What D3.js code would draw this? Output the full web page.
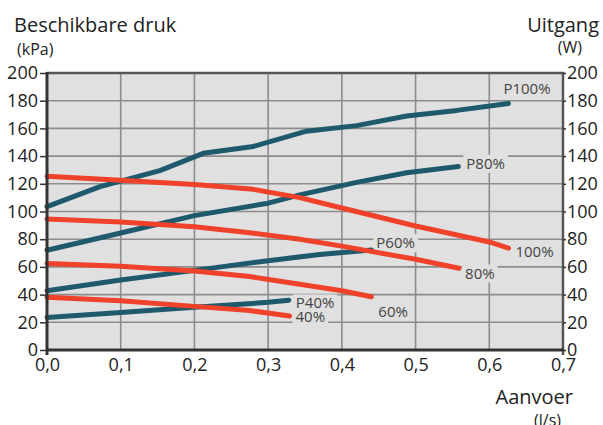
<!DOCTYPE html>
<html>
<head>
<meta charset="utf-8">
<script src="https://cdn.jsdelivr.net/npm/d3@7"></script>
<style>
  html, body { margin: 0; padding: 0; background: #fff; }
  svg { display: block; font-family: "Open Sans", "DejaVu Sans", sans-serif; }
</style>
</head>
<body>
<svg id="chart" width="603" height="425"></svg>
<script>
// ---- data ----
const xTicks = [0, 0.1, 0.2, 0.3, 0.4, 0.5, 0.6, 0.7];
const yTicks = [0, 20, 40, 60, 80, 100, 120, 140, 160, 180, 200];

// pressure curves (kPa), red
const press100 = [[0,125.5],[0.1,122.5],[0.2,119.5],[0.28,116],[0.343,110],[0.4,102.5],[0.5,89.5],[0.6,78],[0.626,73.5]];
const press80  = [[0,94.5],[0.1,92.5],[0.2,89],[0.275,84.7],[0.343,80],[0.4,75],[0.5,65.5],[0.559,59]];
const press60  = [[0,62.5],[0.1,60.5],[0.2,57],[0.275,53],[0.343,47.5],[0.4,42.8],[0.44,38.5]];
const press40  = [[0,38],[0.1,35.5],[0.2,31.5],[0.275,28.5],[0.329,24.5]];

// power curves (W), blue
const power100 = [[0,103.5],[0.072,118],[0.153,129.5],[0.212,142],[0.28,147],[0.352,158],[0.42,162],[0.488,169],[0.556,173],[0.626,178]];
const power80  = [[0,72],[0.1,84.5],[0.2,97],[0.3,106],[0.343,112],[0.42,121],[0.488,128],[0.558,132.5]];
const power60  = [[0,42.8],[0.1,50.5],[0.2,57.5],[0.3,64.5],[0.37,69],[0.44,72.2]];
const power40  = [[0,23.5],[0.1,27],[0.2,30.8],[0.3,34.4],[0.328,36]];

const pressLabels = ["100%", "80%", "60%", "40%"];
const powerLabels = ["P100%", "P80%", "P60%", "P40%"];

// ---- layout / style ----
const RED = "#f0412a", BLUE = "#1e596c";
const svg = d3.select("#chart");
const x = d3.scaleLinear().domain([0, 0.7]).range([47, 563]);
const y = d3.scaleLinear().domain([0, 200]).range([350, 73]);

// plot background
svg.append("rect")
  .attr("x", x(0)).attr("y", y(200))
  .attr("width", x(0.7) - x(0)).attr("height", y(0) - y(200))
  .attr("fill", "#e0e0e0");

// grid
const grid = svg.append("g").attr("stroke", "#8c8c8c").attr("stroke-width", 1.6);
grid.selectAll("line.h").data(yTicks.filter(d => d > 0 && d < 200)).join("line")
  .attr("x1", x(0)).attr("x2", x(0.7)).attr("y1", d => y(d)).attr("y2", d => y(d));
grid.selectAll("line.v").data(xTicks.filter(d => d > 0 && d < 0.7)).join("line")
  .attr("y1", y(0)).attr("y2", y(200)).attr("x1", d => x(d)).attr("x2", d => x(d));

const bgLayer = svg.append("g");
const lineLayer = svg.append("g");
const textLayer = svg.append("g");

// border (top/right)
svg.append("path")
  .attr("d", `M${x(0)},${y(200)}H${x(0.7)}V${y(0) + 5}`)
  .attr("fill", "none").attr("stroke", "#555").attr("stroke-width", 2.5);

// axes
const fmtX = d => d.toFixed(1).replace(".", ",");
const left = svg.append("g").attr("transform", `translate(${x(0)},0)`)
  .call(d3.axisLeft(y).tickValues(yTicks).tickSize(7).tickPadding(2).tickFormat(d => d));
const right = svg.append("g").attr("transform", `translate(${x(0.7)},0)`)
  .call(d3.axisRight(y).tickValues(yTicks).tickSize(3).tickPadding(1).tickFormat(d => d));
const bottom = svg.append("g").attr("transform", `translate(0,${y(0)})`)
  .call(d3.axisBottom(x).tickValues(xTicks).tickSize(0).tickPadding(8).tickFormat(fmtX));

[left, right, bottom].forEach(g => {
  g.selectAll("text").attr("font-size", 18).attr("fill", "#222")
   .attr("font-family", "'Open Sans', sans-serif");
  g.selectAll(".tick line").attr("stroke", "#333").attr("stroke-width", 1.5);
});
left.select(".domain").remove();
right.select(".domain").remove();
bottom.select(".domain").remove();
svg.append("line").attr("x1", x(0)).attr("x2", x(0)).attr("y1", y(200) - 1).attr("y2", y(0) + 5)
  .attr("stroke", "#333").attr("stroke-width", 3);
svg.append("line").attr("x1", x(0) - 1).attr("x2", x(0.7) + 1).attr("y1", y(0)).attr("y2", y(0))
  .attr("stroke", "#333").attr("stroke-width", 3);

// curves
const line = d3.line().x(d => x(d[0])).y(d => y(d[1])).curve(d3.curveLinear);
const series = [
  { data: power100, color: BLUE, label: powerLabels[0], dx: -5, dy: -15 },
  { data: power80,  color: BLUE, label: powerLabels[1], dx: 8,  dy: -3 },
  { data: power60,  color: BLUE, label: powerLabels[2], dx: 5,  dy: -7 },
  { data: power40,  color: BLUE, label: powerLabels[3], dx: 7,  dy: 3 },
  { data: press100, color: RED,  label: pressLabels[0], dx: 7,  dy: 4 },
  { data: press80,  color: RED,  label: pressLabels[1], dx: 6,  dy: 5 },
  { data: press60,  color: RED,  label: pressLabels[2], dx: 7,  dy: 15 },
  { data: press40,  color: RED,  label: pressLabels[3], dx: 6,  dy: 1 }
];

lineLayer.selectAll("path").data(series).join("path")
  .attr("d", d => line(d.data))
  .attr("fill", "none")
  .attr("stroke", d => d.color)
  .attr("stroke-width", 5)
  .attr("stroke-linecap", "round")
  .attr("stroke-linejoin", "round");

// labels with background boxes
series.forEach(s => {
  const last = s.data[s.data.length - 1];
  const t = textLayer.append("text")
    .attr("x", x(last[0]) + s.dx)
    .attr("y", y(last[1]) + s.dy)
    .attr("dy", "0.35em")
    .attr("font-size", 15)
    .attr("fill", "#444")
    .text(s.label);
  const b = t.node().getBBox();
  bgLayer.append("rect")
    .attr("x", b.x - 3).attr("y", b.y + 2)
    .attr("width", b.width + 6).attr("height", b.height - 2)
    .attr("fill", "#e0e0e0");
});

// titles
svg.append("text").attr("x", 14).attr("y", 32).attr("font-size", 20).attr("fill", "#222").text("Beschikbare druk");
svg.append("text").attr("x", 17).attr("y", 55).attr("font-size", 16).attr("fill", "#222").text("(kPa)");
svg.append("text").attr("x", 599).attr("y", 32).attr("font-size", 20).attr("fill", "#222").attr("text-anchor", "end").text("Uitgang");
svg.append("text").attr("x", 582).attr("y", 53).attr("font-size", 16).attr("fill", "#222").attr("text-anchor", "end").text("(W)");
svg.append("text").attr("x", 573).attr("y", 404).attr("font-size", 20).attr("fill", "#222").attr("text-anchor", "end").text("Aanvoer");
svg.append("text").attr("x", 561).attr("y", 426).attr("font-size", 16).attr("fill", "#222").attr("text-anchor", "end").text("(l/s)");
</script>
</body>
</html>
